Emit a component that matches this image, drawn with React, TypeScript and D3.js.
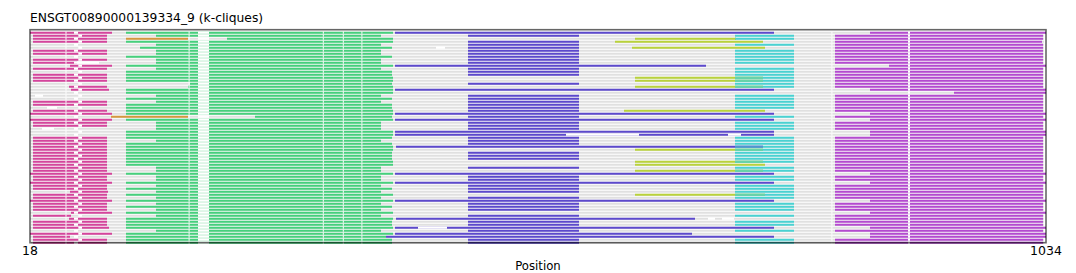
import React from "react";
import * as d3 from "d3";

// ---------- data ----------
const chartTitle = "ENSGT00890000139334_9 (k-cliques)";
const xAxisLabel = "Position";
const positionDomain: [number, number] = [18, 1034];
const tickValues = [18, 1034];
const rowDomain: [number, number] = [-1, 70];

type Seg = [number, number, number]; // [row, start, end]

const grayLines: Seg[] = [
  [0, 18, 1034], [1, 19, 1032], [2, 19, 1032], [3, 19, 1032], [4, 18, 1032], [5, 18, 1032],
  [6, 19, 1032], [7, 19, 1032], [8, 18, 1032], [9, 19, 1032], [10, 19, 1032], [11, 18, 1034],
  [12, 19, 1032], [13, 18, 1032], [14, 19, 1032], [15, 19, 1032], [16, 19, 1032], [17, 18, 1032],
  [18, 18, 1032], [19, 18, 1034], [20, 18, 1034], [21, 18, 1032], [22, 18, 1032], [23, 19, 1032],
  [24, 19, 1032], [25, 18, 1032], [26, 19, 1032], [27, 18, 1034], [28, 18, 1032], [29, 18, 1034],
  [30, 19, 1032], [31, 19, 1032], [32, 18, 1032], [33, 18, 1034], [34, 18, 1034], [35, 19, 1032],
  [36, 19, 1032], [37, 19, 1032], [38, 19, 1032], [39, 19, 1032], [40, 19, 1032], [41, 19, 1032],
  [42, 19, 1032], [43, 19, 1032], [44, 19, 1032], [45, 19, 1032], [46, 19, 1032], [47, 18, 1034],
  [48, 19, 1032], [49, 19, 1032], [50, 18, 1034], [51, 19, 1032], [52, 19, 1032], [53, 18, 1032],
  [54, 19, 1032], [55, 19, 1032], [56, 18, 1034], [57, 19, 1032], [58, 19, 1032], [59, 19, 1032],
  [60, 18, 1034], [61, 19, 1032], [62, 18, 1032], [63, 19, 1032], [64, 19, 1032], [65, 18, 1034],
  [66, 18, 1032], [67, 18, 1034], [68, 18, 1034], [69, 19, 1032], [70, 19, 1032],
];

const magentaSegs: Seg[] = [
  [0, 18, 100], [1, 21, 95], [2, 21, 95], [3, 21, 95], [6, 21, 95], [7, 21, 95], [9, 21, 95],
  [10, 21, 65], [11, 58, 100], [12, 21, 95], [14, 21, 95], [15, 21, 95], [16, 21, 95],
  [18, 57, 95], [19, 59, 97], [23, 21, 95], [24, 21, 95], [26, 21, 95], [27, 18, 100],
  [29, 18, 100], [30, 21, 95], [31, 21, 95], [35, 21, 95], [36, 21, 95], [37, 21, 95],
  [38, 21, 95], [39, 21, 95], [40, 21, 95], [41, 21, 95], [42, 21, 95], [43, 21, 95],
  [44, 21, 95], [45, 21, 95], [46, 21, 95], [47, 18, 100], [48, 21, 95], [49, 21, 95],
  [50, 18, 100], [51, 21, 95], [52, 21, 95], [53, 58, 96], [54, 21, 95], [55, 21, 95],
  [56, 18, 100], [57, 21, 95], [58, 21, 95], [59, 21, 95], [60, 59, 100], [61, 21, 59],
  [62, 57, 95], [63, 21, 95], [64, 21, 95], [65, 21, 97], [67, 18, 100], [68, 21, 58],
  [69, 21, 95], [70, 21, 95],
];

const orangeSegs: Seg[] = [[2, 114, 176], [28, 99, 176]];

const greenSegs: Seg[] = [
  [0, 114, 381], [1, 144, 369], [2, 215, 381], [3, 114, 381], [4, 144, 369], [5, 128, 380],
  [6, 144, 369], [7, 144, 369], [8, 114, 380], [9, 144, 369], [10, 144, 369], [11, 114, 381],
  [12, 144, 369], [13, 114, 380], [14, 114, 380], [15, 114, 381], [16, 114, 381], [17, 178, 380],
  [18, 176, 381], [19, 114, 381], [20, 114, 381], [21, 144, 369], [22, 114, 380], [23, 144, 369],
  [24, 114, 380], [25, 114, 380], [26, 114, 381], [27, 114, 381], [28, 243, 380], [29, 114, 381],
  [30, 144, 369], [31, 144, 369], [32, 144, 369], [33, 114, 381], [34, 114, 381], [35, 114, 380],
  [36, 144, 369], [37, 114, 380], [38, 114, 381], [39, 114, 381], [40, 114, 380], [41, 114, 380],
  [42, 114, 380], [43, 114, 381], [44, 114, 381], [45, 144, 369], [46, 144, 369], [47, 114, 381],
  [48, 144, 369], [49, 144, 369], [50, 114, 381], [51, 144, 369], [52, 114, 380], [53, 144, 369],
  [54, 114, 381], [55, 144, 369], [56, 114, 381], [57, 144, 369], [58, 114, 380], [59, 144, 369],
  [60, 114, 381], [61, 144, 369], [62, 114, 381], [63, 114, 380], [64, 114, 380], [65, 114, 381],
  [66, 144, 369], [67, 114, 381], [68, 114, 374], [69, 114, 380], [70, 114, 380],
];

const blueSegs: Seg[] = [
  [0, 383, 762], [1, 456, 567], [3, 456, 567], [4, 456, 567], [5, 456, 567], [6, 456, 567],
  [7, 456, 567], [8, 456, 567], [9, 456, 567], [10, 456, 567], [11, 383, 694], [12, 456, 567],
  [13, 456, 567], [14, 456, 567], [17, 456, 567], [19, 383, 762], [21, 456, 567], [22, 456, 567],
  [23, 456, 567], [24, 456, 567], [25, 456, 567], [26, 456, 567], [27, 383, 762], [28, 456, 567],
  [29, 383, 762], [30, 456, 567], [31, 456, 567], [32, 456, 567], [33, 383, 762], [34, 383, 762],
  [35, 456, 567], [36, 456, 567], [37, 456, 567], [38, 384, 751], [40, 456, 567], [41, 456, 567],
  [42, 456, 567], [45, 456, 567], [47, 383, 762], [48, 456, 567], [49, 456, 567], [50, 383, 762],
  [51, 456, 567], [52, 456, 567], [53, 456, 567], [55, 456, 567], [56, 383, 762], [57, 456, 567],
  [58, 456, 567], [59, 456, 567], [61, 456, 567], [62, 384, 683], [63, 456, 567], [64, 456, 567],
  [65, 383, 762], [66, 456, 567], [67, 383, 680], [68, 374, 762], [69, 456, 567], [70, 456, 567],
];

const yellowSegs: Seg[] = [
  [2, 623, 724], [3, 603, 751], [5, 620, 753], [15, 623, 751], [16, 623, 751], [18, 623, 751],
  [26, 612, 753], [39, 623, 751], [43, 623, 751], [44, 623, 753], [46, 623, 751], [54, 623, 753],
];

const cyanSegs: Seg[] = [
  [1, 723, 782], [2, 723, 782], [4, 723, 782], [6, 723, 782], [7, 723, 782], [8, 723, 782],
  [9, 723, 782], [10, 723, 782], [12, 723, 782], [13, 723, 782], [14, 723, 782], [15, 723, 782],
  [16, 723, 782], [17, 723, 782], [18, 723, 782], [21, 723, 782], [22, 723, 782], [23, 723, 782],
  [24, 723, 782], [25, 723, 782], [28, 723, 782], [30, 723, 782], [31, 723, 782], [32, 723, 782],
  [35, 723, 782], [36, 723, 782], [37, 723, 782], [38, 723, 782], [39, 723, 782], [40, 723, 782],
  [41, 723, 782], [42, 723, 782], [43, 723, 782], [45, 723, 782], [46, 723, 782], [48, 723, 782],
  [49, 723, 782], [51, 723, 782], [52, 723, 782], [53, 723, 782], [54, 723, 782], [55, 723, 782],
  [57, 723, 782], [58, 723, 782], [59, 723, 782], [61, 723, 782], [63, 723, 782], [64, 723, 782],
  [66, 723, 782], [69, 723, 782], [70, 723, 782],
];

const purpleSegs: Seg[] = [
  [0, 858, 1034], [1, 823, 1031], [2, 823, 1031], [3, 823, 1030], [4, 823, 1031], [5, 823, 1031],
  [6, 823, 1031], [7, 823, 1031], [8, 823, 1031], [9, 823, 1031], [10, 823, 1031], [11, 877, 1034],
  [12, 823, 1031], [13, 823, 1031], [14, 823, 1031], [15, 823, 1031], [16, 823, 1031], [17, 823, 1031],
  [18, 823, 1031], [19, 858, 1034], [20, 942, 1034], [21, 823, 1031], [22, 823, 1031], [23, 823, 1031],
  [24, 823, 1031], [25, 823, 1031], [26, 823, 1031], [27, 858, 1034], [28, 823, 1031], [29, 858, 1034],
  [30, 823, 1031], [31, 823, 1031], [32, 823, 1031], [33, 858, 1034], [34, 858, 1034], [35, 823, 1031],
  [36, 823, 1031], [37, 823, 1031], [38, 823, 1031], [39, 823, 1031], [40, 823, 1031], [41, 823, 1031],
  [42, 823, 1031], [43, 823, 1031], [44, 823, 1031], [45, 823, 1031], [46, 823, 1031], [47, 858, 1034],
  [48, 823, 1031], [49, 823, 1031], [50, 858, 1034], [51, 823, 1031], [52, 823, 1031], [53, 823, 1031],
  [54, 823, 1031], [55, 823, 1031], [56, 858, 1034], [57, 823, 1031], [58, 823, 1031], [59, 823, 1031],
  [60, 858, 1034], [61, 823, 1031], [62, 823, 1031], [63, 823, 1031], [64, 823, 1031], [65, 858, 1034],
  [66, 823, 1031], [67, 858, 1034], [68, 858, 1034], [69, 823, 1031], [70, 823, 1031],
];

// alignment gap columns shared by every row
const sharedGaps: [number, number][] = [
  [53.5, 54.5], [176.6, 177.6], [186, 197], [310.8, 311.8], [330.8, 331.8],
  [349.4, 350.4], [819.4, 820.4], [896, 898],
];
// gap near position 62-70 sits at one of two offsets, alternating between rows
const alternatingGaps: [number, number][] = [[62, 66], [66.3, 70]];

// gaps specific to single rows
const rowGaps: Seg[] = [
  [5, 424, 433], [10, 66, 87], [21, 23, 31], [25, 35, 45], [32, 30, 42],
  [34, 554, 627], [34, 716, 729], [62, 696, 703], [62, 710, 722], [65, 406, 435],
];

const palette = {
  gray: "#e0e0e0",
  magenta: "#d5449c",
  orange: "#d4973d",
  green: "#45d07c",
  blue: "#5c49cc",
  yellow: "#b9d23b",
  cyan: "#49d2d2",
  purple: "#b44ad0",
};

// ---------- chart ----------
const W = 1076;
const H = 273;
const plot = { left: 30, right: 1046, top: 29.7, bottom: 242.7 };

export default function App() {
  const x = d3.scaleLinear().domain(positionDomain).range([plot.left, plot.right]);
  const y = d3.scaleLinear().domain(rowDomain).range([plot.top, plot.bottom]);
  const lw = 2;

  const series: { segs: Seg[]; color: string }[] = [
    { segs: magentaSegs, color: palette.magenta },
    { segs: orangeSegs, color: palette.orange },
    { segs: greenSegs, color: palette.green },
    { segs: blueSegs, color: palette.blue },
    { segs: yellowSegs, color: palette.yellow },
    { segs: cyanSegs, color: palette.cyan },
    { segs: purpleSegs, color: palette.purple },
  ];

  // overlap blends (cyan over yellow / blue)
  const overlaps: { row: number; a: number; b: number; color: string }[] = [];
  cyanSegs.forEach(([r, s, e]) => {
    [
      { segs: yellowSegs, c: d3.interpolateRgb(palette.yellow, palette.cyan)(0.72) },
      { segs: blueSegs, c: d3.interpolateRgb(palette.blue, palette.cyan)(0.55) },
    ].forEach(({ segs, c }) => {
      segs.forEach(([r2, s2, e2]) => {
        if (r2 === r) {
          const a = Math.max(s, s2);
          const b = Math.min(e, e2);
          if (b > a) overlaps.push({ row: r, a, b, color: c });
        }
      });
    });
  });

  const rows = grayLines.map((g) => g[0]);

  return (
    <svg
      width={W}
      height={H}
      style={{ position: "absolute", left: 0, top: 0, display: "block", background: "#fff" }}
      fontFamily="DejaVu Sans, sans-serif"
    >
      <rect x={0} y={0} width={W} height={H} fill="#fff" />
      <text x={plot.left} y={21.5} fontSize={12.3} fill="#000">
        {chartTitle}
      </text>

      <g>
        {grayLines.map(([r, s, e], i) => (
          <line key={"g" + i} x1={x(s)} x2={x(e)} y1={y(r)} y2={y(r)} stroke={palette.gray} strokeWidth={lw} />
        ))}
      </g>
      {series.map((ser, si) => (
        <g key={"s" + si}>
          {ser.segs.map(([r, s, e], i) => (
            <line key={i} x1={x(s)} x2={x(e)} y1={y(r)} y2={y(r)} stroke={ser.color} strokeWidth={lw} />
          ))}
        </g>
      ))}
      <g>
        {overlaps.map((o, i) => (
          <line key={"o" + i} x1={x(o.a)} x2={x(o.b)} y1={y(o.row)} y2={y(o.row)} stroke={o.color} strokeWidth={lw} />
        ))}
      </g>
      <g>
        {rows.map((r) =>
          sharedGaps.map(([s, e], j) => (
            <line key={"sg" + r + "-" + j} x1={x(s)} x2={x(e)} y1={y(r)} y2={y(r)} stroke="#fff" strokeWidth={lw + 0.2} />
          ))
        )}
        {rows.map((r) => {
          const [s, e] = alternatingGaps[r % 2];
          return (
            <line key={"ag" + r} x1={x(s)} x2={x(e)} y1={y(r)} y2={y(r)} stroke="#fff" strokeWidth={lw + 0.2} />
          );
        })}
        {rowGaps.map(([r, s, e], i) => (
          <line key={"rg" + i} x1={x(s)} x2={x(e)} y1={y(r)} y2={y(r)} stroke="#fff" strokeWidth={lw + 0.2} />
        ))}
      </g>

      <rect
        x={plot.left}
        y={plot.top}
        width={plot.right - plot.left}
        height={plot.bottom - plot.top}
        fill="none"
        stroke="#000"
        strokeOpacity={0.6}
        strokeWidth={1.6}
      />

      {tickValues.map((t) => (
        <text key={t} x={x(t)} y={254.5} fontSize={12.5} textAnchor="middle" fill="#000">
          {t}
        </text>
      ))}
      <text x={(plot.left + plot.right) / 2} y={270} fontSize={11.7} textAnchor="middle" fill="#000">
        {xAxisLabel}
      </text>
    </svg>
  );
}
